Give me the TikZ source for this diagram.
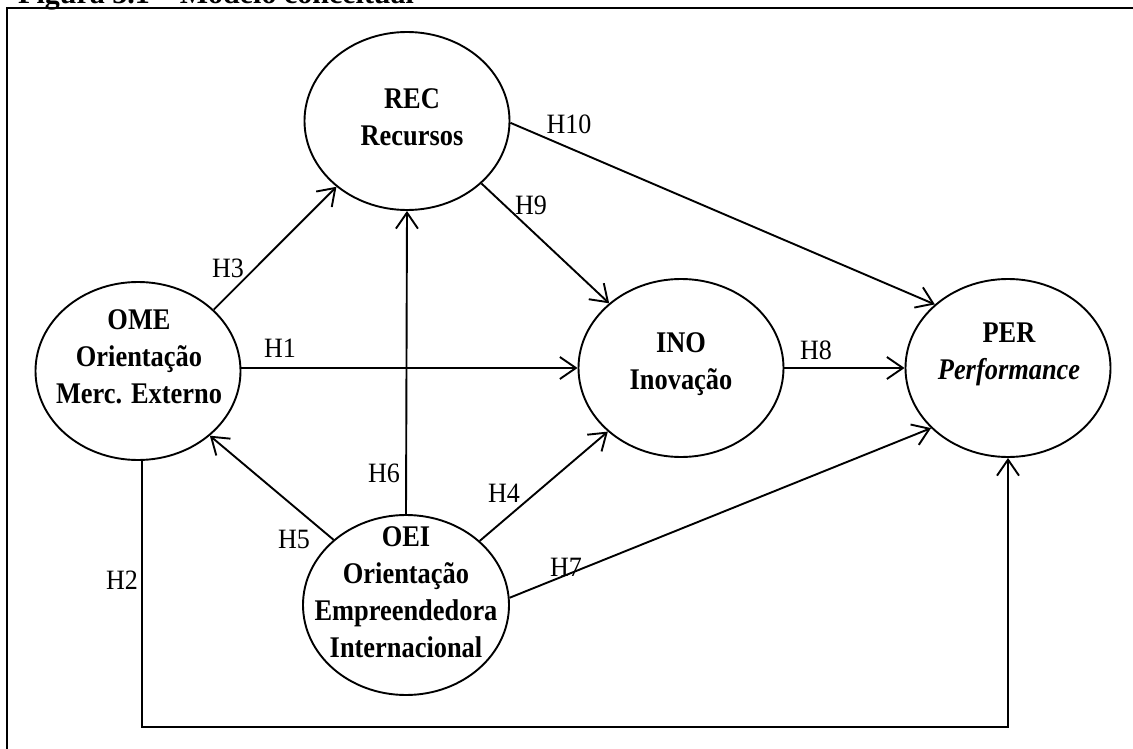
\documentclass[tikz,border=0pt]{standalone}
\usepackage{fontspec}
\setmainfont{Liberation Serif}
\newfontfamily\condserif[FakeStretch=0.88]{Liberation Serif}
\newfontfamily\labelserif[FakeStretch=0.93]{Liberation Serif}
\usetikzlibrary{shapes.geometric, arrows.meta}

\tikzset{
  construct/.style={draw, ellipse, line width=1.9pt, minimum width=205pt,
    minimum height=178pt, inner sep=0pt},
  ctext/.style={align=center, anchor=base, inner sep=0pt,
    font=\condserif\bfseries\fontsize{30}{37}\selectfont},
  hyp/.style={line width=1.9pt,
    -{Straight Barb[length=16pt, width=22pt]}},
  hlabel/.style={inner sep=0pt, font=\labelserif\fontsize{28}{32}\selectfont},
  frameline/.style={line width=2.4pt},
}

\begin{document}
\begin{tikzpicture}[x=1pt, y=-1pt]
  \useasboundingbox (0,0) rectangle (1133,749);

  % caption and surrounding frame
  \node[anchor=base west, inner sep=0pt,
        font=\bfseries\fontsize{30}{34}\selectfont] (caption) at (18,4)
        {Figura 3.1 -- Modelo conceitual};
  \draw[frameline] (7,8) rectangle (1150,770);

  % constructs
  \node[construct] (rec) at (407,121) {};
  \node[construct] (ome) at (138,371) {};
  \node[construct] (ino) at (681,368) {};
  \node[construct] (per) at (1008,368) {};
  \node[construct, minimum width=206pt, minimum height=180pt] (oei) at (406,605) {};

  % construct names (anchored at the baseline of the last line)
  \node[ctext] (recT) at (412,146) {REC\\Recursos};
  \node[ctext] (omeT) at (139,403) {OME\\Orientação\\Merc. Externo};
  \node[ctext] (inoT) at (681,389) {INO\\Inovação};
  \node[ctext] (perT) at (1009,379) {PER\\\textit{Performance}};
  \node[ctext] (oeiT) at (406,657) {OEI\\Orientação\\Empreendedora\\Internacional};

  % hypotheses
  \draw[hyp] (ino.west -| ome.east) -- (ino.west);
  \draw[hyp] (ome.39)  -- (rec.223);
  \draw[hyp] (oei.90)  -- (rec.270);
  \draw[hyp] (oei.41)  -- (ino.221);
  \draw[hyp] (oei.138) -- (ome.318);
  \draw[hyp] (oei.4)   -- (per.218);
  \draw[hyp] (ino.0)   -- (per.180);
  \draw[hyp] (rec.320) -- (ino.138);
  \draw[hyp] (rec.-1)  -- (per.139);

  \coordinate (h2a) at (142,727);
  \coordinate (h2b) at (1008,727);
  \draw[hyp] (h2a |- ome.south) -- (h2a) -- (h2b) -- (h2b |- per.south);
  \draw[line width=2.8pt] (h2a) -- (h2b);

  % hypothesis labels
  \node[hlabel] (l1)  at (280,348) {H1};
  \node[hlabel] (l2)  at (122,580) {H2};
  \node[hlabel] (l3)  at (228,268) {H3};
  \node[hlabel] (l4)  at (504,493) {H4};
  \node[hlabel] (l5)  at (294,539) {H5};
  \node[hlabel] (l6)  at (384,473) {H6};
  \node[hlabel] (l7)  at (566,567) {H7};
  \node[hlabel] (l8)  at (816,350) {H8};
  \node[hlabel] (l9)  at (531,205) {H9};
  \node[hlabel] (l10) at (569,124) {H10};
\end{tikzpicture}
\end{document}
